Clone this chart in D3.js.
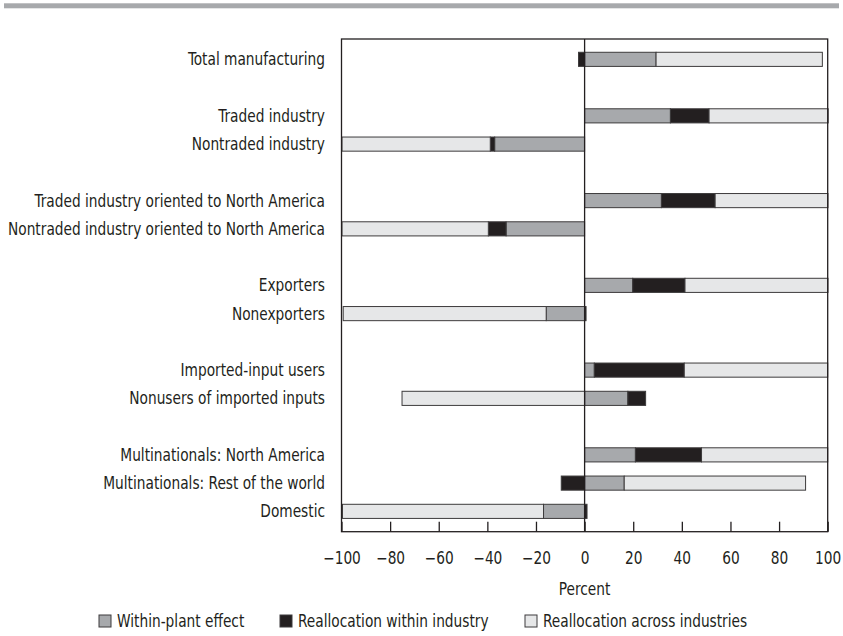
<!DOCTYPE html>
<html>
<head>
<meta charset="utf-8">
<script src="https://cdn.jsdelivr.net/npm/d3@7"></script>
<style>
  body { margin: 0; background: #fff; }
  text { font-family: "DejaVu Sans Condensed", "Liberation Sans Narrow", sans-serif; fill: #231f20; }
</style>
</head>
<body>
<div id="chart-container"></div>
<script>
// diverging stacked bars
const svgWidth = 843;
const svgHeight = 636;

// row labels, "" marks an empty spacer row
const rows = ["Total manufacturing", "",
  "Traded industry", "Nontraded industry", "",
  "Traded industry oriented to North America", "Nontraded industry oriented to North America", "",
  "Exporters", "Nonexporters", "",
  "Imported-input users", "Nonusers of imported inputs", "",
  "Multinationals: North America", "Multinationals: Rest of the world", "Domestic"];

// values in percent, one per non-empty row (same order)
const withinPlant      = [29.4, 35.3, -37.0, 31.6, -32.3, 19.8, -15.8, 4.0, 17.8, 20.9, 16.3, -16.9];
const withinIndustry   = [-2.5, 15.9, -1.8, 22.1, -7.3, 21.5, 0.6, 37.0, 7.3, 27.2, -9.6, 1.0];
const acrossIndustries = [68.4, 49.0, -61.0, 46.4, -60.2, 58.8, -83.5, 59.0, -75.1, 51.9, 74.6, -82.7];

const xTicks = [-100, -80, -60, -40, -20, 0, 20, 40, 60, 80, 100];
const seriesKeys = ["within", "realloc", "across"];
const seriesNames = ["Within-plant effect", "Reallocation within industry", "Reallocation across industries"];
const seriesColors = ["#a7a9ac", "#231f20", "#e6e7e8"];

const svg = d3.select("#chart-container")
  .append("svg")
  .attr("width", svgWidth)
  .attr("height", svgHeight);

// grey rule across the top
svg.append("rect")
  .attr("x", 4).attr("y", 3.3)
  .attr("width", 835).attr("height", 5)
  .attr("fill", "#a7a9ac");

const plot = { left: 341.5, right: 827.7, top: 39, bottom: 531.7 };

const x = d3.scaleLinear().domain([-100, 100]).range([plot.left, plot.right]);
const y = d3.scaleBand()
  .domain(d3.range(rows.length))
  .range([plot.top, plot.bottom])
  .paddingInner(0.5)
  .paddingOuter(0.47);

// build a table for d3.stack from the arrays
const labelRows = rows.map((r, i) => ({ r, i })).filter(d => d.r !== "");
const table = labelRows.map((d, k) => ({
  idx: d.i,
  name: d.r,
  within: withinPlant[k],
  realloc: withinIndustry[k],
  across: acrossIndustries[k]
}));

const stacked = d3.stack()
  .keys(seriesKeys)
  .offset(d3.stackOffsetDiverging)(table);

const color = d3.scaleOrdinal().domain(seriesKeys).range(seriesColors);

// bars
svg.append("g").selectAll("g")
  .data(stacked)
  .enter().append("g")
  .attr("fill", d => color(d.key))
  .selectAll("rect")
  .data(d => d)
  .enter().append("rect")
  .attr("x", d => x(Math.min(d[0], d[1])))
  .attr("width", d => Math.abs(x(d[1]) - x(d[0])))
  .attr("y", d => y(d.data.idx))
  .attr("height", y.bandwidth())
  .attr("stroke", "#3d3b3c")
  .attr("stroke-width", 1);

// frame
svg.append("rect")
  .attr("x", plot.left).attr("y", plot.top)
  .attr("width", plot.right - plot.left).attr("height", plot.bottom - plot.top)
  .attr("fill", "none")
  .attr("stroke", "#231f20")
  .attr("stroke-width", 1.3);

// zero line
svg.append("line")
  .attr("x1", x(0)).attr("x2", x(0))
  .attr("y1", plot.top).attr("y2", plot.bottom)
  .attr("stroke", "#231f20")
  .attr("stroke-width", 1.3);

// x axis with inward ticks
const xAxis = svg.append("g")
  .attr("transform", `translate(0,${plot.bottom})`)
  .call(d3.axisBottom(x).tickValues(xTicks).tickSizeInner(-10).tickSizeOuter(0).tickPadding(20));
xAxis.select(".domain").remove();
xAxis.selectAll(".tick line").attr("stroke", "#231f20").attr("stroke-width", 1.3);
xAxis.selectAll(".tick text")
  .attr("font-size", 17)
  .attr("fill", "#231f20")
  .attr("font-family", null);

svg.append("text")
  .text("Percent")
  .attr("x", x(0))
  .attr("y", 595)
  .attr("text-anchor", "middle")
  .attr("font-size", 17);

// row labels
const rowLabels = svg.append("g").selectAll("text")
  .data(labelRows)
  .enter().append("text")
  .text(d => d.r)
  .attr("x", 325)
  .attr("y", d => y(d.i) + y.bandwidth() / 2)
  .attr("dy", "0.36em")
  .attr("text-anchor", "end")
  .attr("font-size", 17);

// legend
const legendX = [99, 280, 525];
const legend = svg.append("g").selectAll("g")
  .data(seriesKeys)
  .enter().append("g")
  .attr("transform", (d, i) => `translate(${legendX[i]},615)`);
legend.append("rect")
  .attr("width", 12).attr("height", 12)
  .attr("fill", d => color(d))
  .attr("stroke", "#3d3b3c")
  .attr("stroke-width", 1);
legend.append("text")
  .text((d, i) => seriesNames[i])
  .attr("x", 18)
  .attr("y", 6)
  .attr("dy", "0.36em")
  .attr("font-size", 17);

// the original font is a narrow one, so squeeze every text by the same factor
let longest = 0;
rowLabels.each(function () { longest = Math.max(longest, this.getComputedTextLength()); });
const squeeze = 317 / longest;
svg.selectAll("text").each(function () {
  const w = this.getComputedTextLength();
  d3.select(this)
    .attr("textLength", w * squeeze)
    .attr("lengthAdjust", "spacingAndGlyphs");
});
</script>
</body>
</html>
